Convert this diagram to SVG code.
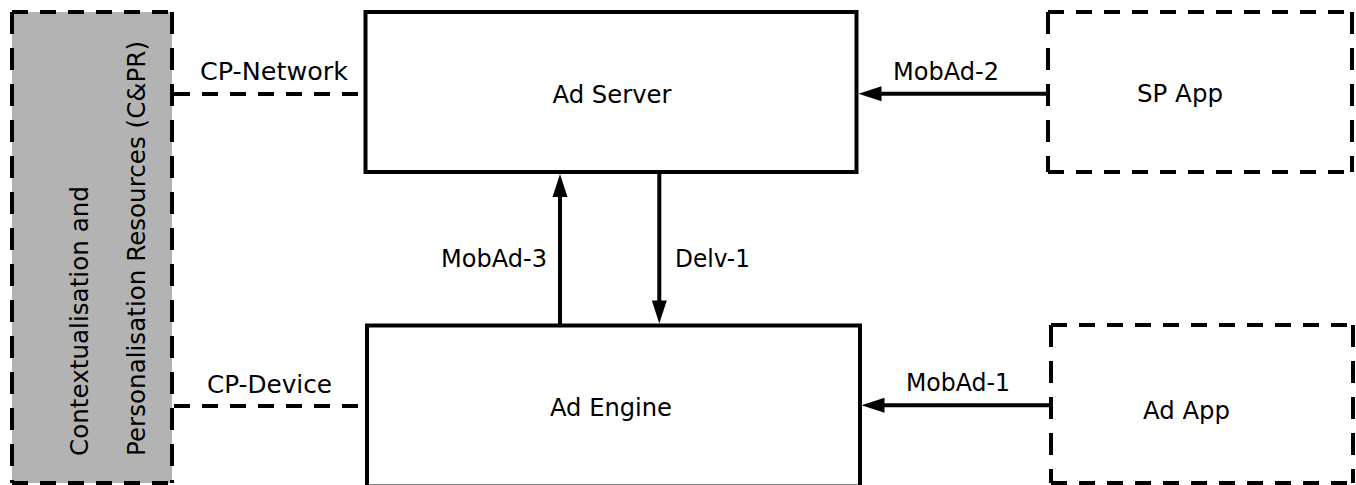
<svg xmlns="http://www.w3.org/2000/svg" width="1356" height="485" viewBox="0 0 1356 485">
<style>
text{font-family:"DejaVu Sans","Liberation Sans",sans-serif;font-size:25px;fill:#000}
.box{fill:#fff;stroke:#000;stroke-width:4}
.dh{fill:none;stroke:#000;stroke-width:4;stroke-dasharray:16 12}
.dv{fill:none;stroke:#000;stroke-width:4;stroke-dasharray:22 14}
.dl{fill:none;stroke:#000;stroke-width:4;stroke-dasharray:16 12}
.ar{fill:none;stroke:#000;stroke-width:4;marker-end:url(#ah)}
.mid{text-anchor:middle}
</style>
<defs>
<marker id="ah" markerUnits="userSpaceOnUse" markerWidth="24" markerHeight="16" refX="15" refY="7.5" orient="auto" overflow="visible">
<path d="M0,0 L23,7.5 L0,15 Z" fill="#000"/>
</marker>
</defs>
<g id="cpr">
<rect x="12" y="12" width="160" height="471" fill="#b3b3b3"/>
<path class="dh" d="M12,12 H172 M12,483 H172"/>
<path class="dv" d="M12,12 V483 M172,12 V483"/>
<text transform="translate(88,456) rotate(-90)" textLength="270" lengthAdjust="spacingAndGlyphs">Contextualisation and</text>
<text transform="translate(145,456) rotate(-90)" textLength="415" lengthAdjust="spacingAndGlyphs">Personalisation Resources (C&amp;PR)</text>
</g>
<g id="adserver">
<rect class="box" x="365.5" y="12" width="491" height="160"/>
<text x="552.5" y="103" textLength="119" lengthAdjust="spacingAndGlyphs">Ad Server</text>
</g>
<g id="adengine">
<rect class="box" x="367" y="325.5" width="493" height="161"/>
<text x="550" y="416" textLength="122" lengthAdjust="spacingAndGlyphs">Ad Engine</text>
</g>
<g id="spapp">
<path class="dh" d="M1048,12 H1352 M1048,172 H1352"/>
<path class="dv" d="M1048,12 V172 M1352,12 V172"/>
<text x="1137" y="102" textLength="86" lengthAdjust="spacingAndGlyphs">SP App</text>
</g>
<g id="adapp">
<path class="dh" d="M1051,325 H1353 M1051,483 H1353"/>
<path class="dv" d="M1051,325 V483 M1353,325 V483"/>
<text x="1143" y="419" textLength="87" lengthAdjust="spacingAndGlyphs">Ad App</text>
</g>
<g id="connectors">
<path class="dl" d="M174,94 H364"/>
<path class="dl" d="M174,406 H365"/>
<path class="ar" d="M1048,93.7 H866.5"/>
<path class="ar" d="M1051,405.3 H869.5"/>
<path class="ar" d="M560,325.5 V182"/>
<path class="ar" d="M659.3,172 V315.5"/>
<text x="200" y="80" textLength="148" lengthAdjust="spacingAndGlyphs">CP-Network</text>
<text x="207" y="393" textLength="125" lengthAdjust="spacingAndGlyphs">CP-Device</text>
<text x="893" y="80" textLength="106" lengthAdjust="spacingAndGlyphs">MobAd-2</text>
<text x="906" y="391" textLength="104" lengthAdjust="spacingAndGlyphs">MobAd-1</text>
<text x="441" y="267" textLength="106" lengthAdjust="spacingAndGlyphs">MobAd-3</text>
<text x="675" y="267" textLength="75" lengthAdjust="spacingAndGlyphs">Delv-1</text>
</g>
</svg>
